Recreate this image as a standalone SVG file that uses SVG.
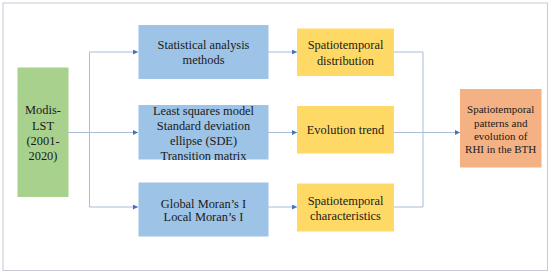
<svg xmlns="http://www.w3.org/2000/svg" width="550" height="273" viewBox="0 0 550 273" font-family="'Liberation Serif', 'DejaVu Serif', serif">
<style>
text{font-family:'Liberation Serif','DejaVu Serif',serif;font-size:12.4px;fill:#1a1a1a;text-anchor:middle}
.small{font-size:11px}
.blue{fill:#9dc3e6}
.yellow{fill:#ffd966}
.green{fill:#a9d18e}
.orange{fill:#f4b183}
.ln{fill:none;stroke:#a9bcd8;stroke-width:1}
</style>
<defs>
<marker id="ah" viewBox="0 0 6 6" refX="6" refY="3" markerWidth="5" markerHeight="5" orient="auto" markerUnits="userSpaceOnUse">
<path d="M0,0 L6,3 L0,6 z" fill="#4472c4"/>
</marker>
</defs>
<rect x="3" y="3" width="544.5" height="267.5" fill="#fff" stroke="#c5cad3" stroke-width="1"/>
<g id="connectors">
<path class="ln" d="M68,132.5 H138" marker-end="url(#ah)"/>
<path class="ln" d="M89.5,52 V207"/>
<path class="ln" d="M89.5,52 H138" marker-end="url(#ah)"/>
<path class="ln" d="M89.5,207 H138" marker-end="url(#ah)"/>
<path class="ln" d="M268,52 H297" marker-end="url(#ah)"/>
<path class="ln" d="M268,132.5 H297" marker-end="url(#ah)"/>
<path class="ln" d="M268,207 H297" marker-end="url(#ah)"/>
<path class="ln" d="M394,52 H423 V207 H394"/>
<path class="ln" d="M394,132.5 H460" marker-end="url(#ah)"/>
</g>
<g id="modis">
<rect class="green" x="17.5" y="67.5" width="51" height="129.5"/>
<text x="43" y="114">Modis-</text>
<text x="43" y="129.5">LST</text>
<text x="43" y="145">(2001-</text>
<text x="43" y="159.5">2020)</text>
</g>
<g id="stat">
<rect class="blue" x="138.5" y="25" width="130" height="54"/>
<text x="203.5" y="49">Statistical analysis</text>
<text x="203.5" y="64">methods</text>
</g>
<g id="lsm">
<rect class="blue" x="138.5" y="105" width="130" height="54.5"/>
<text x="203.5" y="115">Least squares model</text>
<text x="203.5" y="130">Standard deviation</text>
<text x="203.5" y="145">ellipse (SDE)</text>
<text x="203.5" y="159.5">Transition matrix</text>
</g>
<g id="moran">
<rect class="blue" x="138.5" y="182.5" width="130" height="54"/>
<text x="203.5" y="207.5">Global Moran’s I</text>
<text x="203.5" y="221">Local Moran’s I</text>
</g>
<g id="dist">
<rect class="yellow" x="297" y="28.5" width="97" height="47.5"/>
<text x="345.5" y="49">Spatiotemporal</text>
<text x="345.5" y="65">distribution</text>
</g>
<g id="trend">
<rect class="yellow" x="297" y="106" width="97" height="47.5"/>
<text x="345.5" y="134">Evolution trend</text>
</g>
<g id="charac">
<rect class="yellow" x="297" y="183.5" width="97" height="48"/>
<text x="345.5" y="205">Spatiotemporal</text>
<text x="345.5" y="220">characteristics</text>
</g>
<g id="result">
<rect class="orange" x="460" y="89" width="81.5" height="78.5"/>
<text class="small" x="500.7" y="113">Spatiotemporal</text>
<text class="small" x="500.7" y="126.5">patterns and</text>
<text class="small" x="500.7" y="139.5">evolution of</text>
<text class="small" x="500.7" y="152.5">RHI in the BTH</text>
</g>
</svg>
